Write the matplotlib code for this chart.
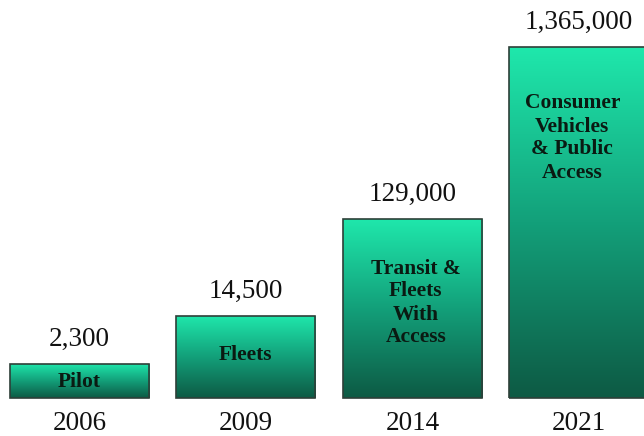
import numpy as np
import matplotlib
matplotlib.use("Agg")
import matplotlib.pyplot as plt
from matplotlib.colors import LinearSegmentedColormap
from matplotlib.patches import Rectangle

years = ["2006", "2009", "2014", "2021"]
value_labels = ["2,300", "14,500", "129,000", "1,365,000"]
phase_labels = ["Pilot", "Fleets", "Transit &\nFleets\nWith\nAccess", "Consumer\nVehicles\n& Public\nAccess"]
# schematic (non-proportional) bar heights as drawn in the reference
bar_heights = [34, 82, 179, 351]

# layout
inner_label_y = [16, 43, 95, 260]
inner_label_dx = [0, 0, 0.02, -0.04]
bar_width = 0.835

fig = plt.figure(figsize=(6.44, 4.36), dpi=100)
ax = fig.add_axes([0, 0, 1, 1])
ax.set_xlim(-0.477, -0.477 + 644 / 166.5)
ax.set_ylim(-38, 398)
ax.axis("off")

cmap = LinearSegmentedColormap.from_list("g", ["#0d5a44", "#13a07a", "#1fe8ac"])
grad = np.linspace(0, 1, 256).reshape(-1, 1)

serif = ["Liberation Serif", "DejaVu Serif"]
for i, (h, yl, vl, pl, ly, dx) in enumerate(zip(bar_heights, years, value_labels,
                                                 phase_labels, inner_label_y, inner_label_dx)):
    x0 = i - bar_width / 2
    im = ax.imshow(grad, cmap=cmap, extent=[x0, x0 + bar_width, 0, h], origin="lower",
                   aspect="auto", zorder=1, interpolation="bilinear")
    rect = Rectangle((x0, 0), bar_width, h, facecolor="none", edgecolor="#2e3f38",
                     linewidth=1.2, zorder=2)
    ax.add_patch(rect)
    im.set_clip_path(rect)
    ax.text(i, h + 25, vl, ha="center", va="center", fontsize=19.5, family=serif, color="#111111")
    ax.text(i, -25.5, yl, ha="center", va="center", fontsize=19.5, family=serif, color="#111111")
    ax.text(i + dx, ly, pl, ha="center", va="center", fontsize=15.5, family=serif,
            fontweight="bold", color="#0a1a12", linespacing=1.2)

fig.savefig("out.png", dpi=100)
